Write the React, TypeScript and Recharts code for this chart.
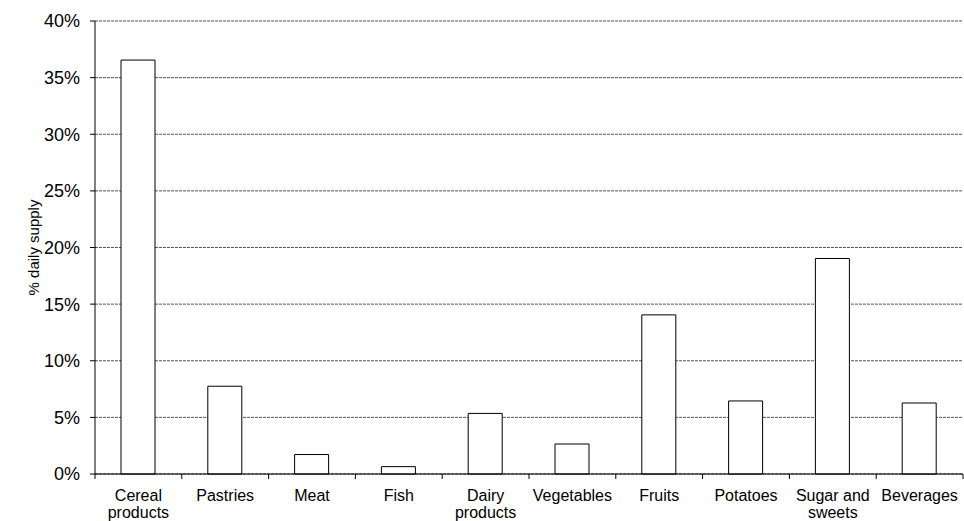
import React from "react"
import { BarChart, Bar, XAxis, YAxis, CartesianGrid } from "recharts"

const categories = [
  "Cereal products",
  "Pastries",
  "Meat",
  "Fish",
  "Dairy products",
  "Vegetables",
  "Fruits",
  "Potatoes",
  "Sugar and sweets",
  "Beverages",
]
// how each label breaks onto two lines under the axis
const labelLines = [
  ["Cereal", "products"],
  ["Pastries"],
  ["Meat"],
  ["Fish"],
  ["Dairy", "products"],
  ["Vegetables"],
  ["Fruits"],
  ["Potatoes"],
  ["Sugar and", "sweets"],
  ["Beverages"],
]
const supply = [36.55, 7.75, 1.72, 0.65, 5.35, 2.65, 14.05, 6.45, 19.03, 6.27]
const yTicks = [0, 5, 10, 15, 20, 25, 30, 35, 40]

const data = categories.map((name, i) => ({ name, value: supply[i] }))

const W = 964
const H = 521
const LEFT = 95
const RIGHT = 1
const TOP = 21
const XAXIS_H = 47
const FONT = "'Liberation Sans', Arial, sans-serif"
const band = (W - LEFT - RIGHT) / categories.length
const midY = TOP + (H - TOP - XAXIS_H) / 2

function CategoryTick(props: any) {
  const { x, y, payload, index } = props
  const half = payload && payload.offset ? payload.offset : band / 2
  const axisY = y - 8
  const lines = labelLines[index] || [payload.value]
  return (
    <g>
      <line x1={x - half} x2={x - half} y1={axisY} y2={axisY + 5} stroke="#000" />
      {index === categories.length - 1 && (
        <line x1={x + half} x2={x + half} y1={axisY} y2={axisY + 5} stroke="#000" />
      )}
      {lines.map((t: string, k: number) => (
        <text
          key={k}
          x={x}
          y={axisY + 27 + k * 17}
          textAnchor="middle"
          fontSize={16}
          fontFamily={FONT}
          fill="#000"
        >
          {t}
        </text>
      ))}
    </g>
  )
}

export default function App() {
  return (
    <div style={{ position: "absolute", left: 0, top: 0, background: "#fff" }}>
      <BarChart
        width={W}
        height={H}
        data={data}
        margin={{ top: TOP, right: RIGHT, left: 0, bottom: 0 }}
      >
        <CartesianGrid vertical={false} stroke="#555" strokeDasharray="3 1" />
        <XAxis
          dataKey="name"
          height={XAXIS_H}
          interval={0}
          tickLine={false}
          axisLine={{ stroke: "#000" }}
          tick={<CategoryTick />}
        />
        <YAxis
          width={LEFT}
          domain={[0, 40]}
          ticks={yTicks}
          tickFormatter={(v) => `${v}%`}
          tickSize={5}
          tickMargin={10}
          axisLine={{ stroke: "#000" }}
          tickLine={{ stroke: "#000" }}
          tick={{ fill: "#000", fontSize: 18, fontFamily: FONT }}
          label={() => (
            <text
              x={33}
              y={midY}
              transform={`rotate(-90, 33, ${midY})`}
              textAnchor="middle"
              dominantBaseline="central"
              fontSize={15}
              fontFamily={FONT}
              fill="#000"
            >
              % daily supply
            </text>
          )}
        />
        <Bar
          dataKey="value"
          fill="#fff"
          stroke="#000"
          strokeWidth={1}
          barSize={34}
          isAnimationActive={false}
        />
      </BarChart>
    </div>
  )
}
